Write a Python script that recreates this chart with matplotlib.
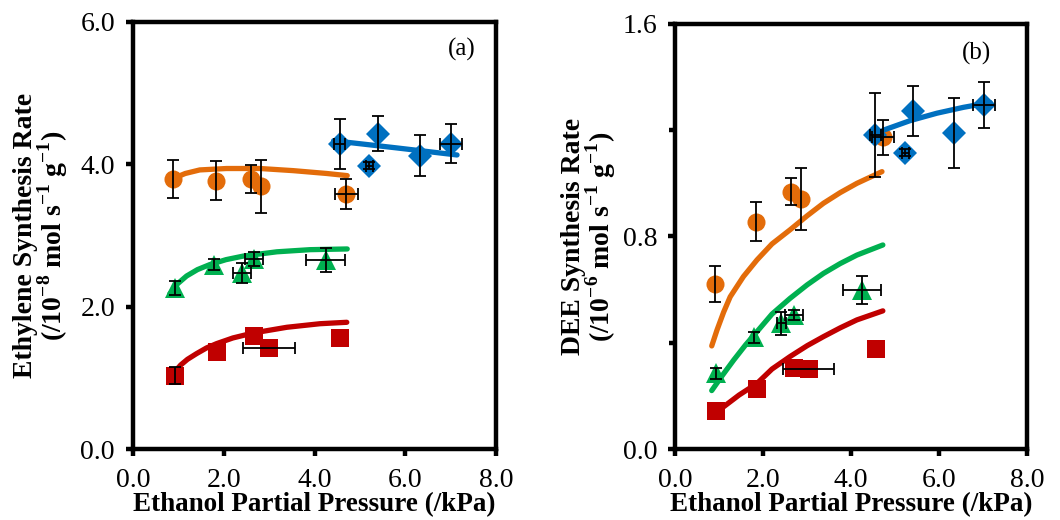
import matplotlib
matplotlib.use("Agg")
import matplotlib.pyplot as plt
from matplotlib.ticker import MultipleLocator, FormatStrFormatter, FixedLocator

plt.rcParams['font.family'] = 'Liberation Serif'
plt.rcParams['mathtext.fontset'] = 'custom'
plt.rcParams['mathtext.rm'] = 'Liberation Serif'
plt.rcParams['mathtext.bf'] = 'Liberation Serif:bold'

c_orange = '#E36C0A'
c_blue = '#0070C0'
c_green = '#00B050'
c_red = '#C00000'

# ---- panel (a): ethylene ----
a_or_x = [0.88, 1.83, 2.61, 2.83, 4.70]
a_or_y = [3.79, 3.77, 3.79, 3.69, 3.58]
a_or_ye = [0.27, 0.27, 0.20, 0.37, 0.21]
a_or_xe = [0, 0, 0, 0, 0.26]
a_bl_x = [4.55, 5.39, 5.21, 6.33, 7.01]
a_bl_y = [4.29, 4.43, 3.98, 4.12, 4.29]
a_bl_ye = [0.35, 0.25, 0.05, 0.29, 0.27]
a_bl_xe = [0.12, 0, 0.08, 0, 0.25]
a_gr_x = [0.92, 1.79, 2.41, 2.67, 4.25]
a_gr_y = [2.26, 2.59, 2.47, 2.67, 2.66]
a_gr_ye = [0.10, 0.08, 0.14, 0.10, 0.17]
a_gr_xe = [0, 0, 0.20, 0.20, 0.43]
a_rd_x = [0.92, 1.85, 2.67, 3.00, 4.55]
a_rd_y = [1.03, 1.36, 1.59, 1.42, 1.56]
a_rd_ye = [0.12, 0, 0, 0, 0]
a_rd_xe = [0, 0, 0, 0.57, 0]

# model curves (a)
a_or_fx = [0.88, 1.00, 1.15, 1.47, 2.06, 2.80, 3.53, 4.27, 4.72]
a_or_fy = [3.80, 3.83, 3.87, 3.92, 3.94, 3.94, 3.91, 3.87, 3.84]
a_bl_fx = [4.42, 5.80, 7.14]
a_bl_fy = [4.33, 4.23, 4.13]
a_gr_fx = [0.81, 0.98, 1.18, 1.42, 1.69, 2.05, 2.43, 3.17, 3.90, 4.72]
a_gr_fy = [2.18, 2.32, 2.43, 2.52, 2.59, 2.66, 2.71, 2.77, 2.80, 2.81]
a_rd_fx = [0.90, 1.05, 1.20, 1.40, 1.62, 1.84, 2.20, 2.65, 3.39, 4.12, 4.71]
a_rd_fy = [1.07, 1.18, 1.26, 1.34, 1.42, 1.48, 1.56, 1.63, 1.71, 1.76, 1.78]

# ---- panel (b): DEE ----
b_or_x = [0.91, 1.84, 2.63, 2.86, 4.72]
b_or_y = [0.620, 0.856, 0.969, 0.940, 1.174]
b_or_ye = [0.068, 0.073, 0.050, 0.116, 0.066]
b_or_xe = [0, 0, 0, 0, 0.25]
b_bl_x = [4.55, 5.40, 5.23, 6.34, 7.02]
b_bl_y = [1.182, 1.273, 1.116, 1.191, 1.295]
b_bl_ye = [0.157, 0.094, 0.015, 0.132, 0.085]
b_bl_xe = [0.12, 0, 0.08, 0, 0.25]
b_gr_x = [0.92, 1.80, 2.41, 2.70, 4.24]
b_gr_y = [0.285, 0.420, 0.473, 0.505, 0.599]
b_gr_ye = [0.02, 0.02, 0.044, 0.02, 0.054]
b_gr_xe = [0, 0, 0.10, 0.20, 0.435]
b_rd_x = [0.93, 1.87, 2.69, 3.03, 4.56]
b_rd_y = [0.143, 0.225, 0.304, 0.300, 0.375]
b_rd_ye = [0, 0, 0, 0, 0]
b_rd_xe = [0, 0, 0, 0.58, 0]

b_or_fx = [0.83, 0.95, 1.10, 1.25, 1.55, 1.86, 2.20, 2.61, 3.00, 3.37, 3.75, 4.13, 4.70]
b_or_fy = [0.388, 0.448, 0.515, 0.573, 0.649, 0.712, 0.772, 0.825, 0.878, 0.925, 0.965, 1.000, 1.044]
b_bl_fx = [4.73, 5.34, 5.95, 6.55, 7.16]
b_bl_fy = [1.200, 1.236, 1.264, 1.286, 1.304]
b_gr_fx = [0.83, 1.05, 1.33, 1.60, 1.86, 2.20, 2.61, 3.00, 3.37, 3.75, 4.13, 4.72]
b_gr_fy = [0.220, 0.272, 0.335, 0.392, 0.442, 0.508, 0.567, 0.618, 0.661, 0.698, 0.730, 0.768]
b_rd_fx = [0.85, 1.10, 1.45, 1.86, 2.20, 2.61, 3.00, 3.37, 3.75, 4.13, 4.72]
b_rd_fy = [0.130, 0.159, 0.203, 0.247, 0.301, 0.348, 0.389, 0.423, 0.456, 0.486, 0.520]


def series(ax, x, y, xe, ye, fx, fy, color, marker, ms):
    ax.plot(x, y, linestyle='none', marker=marker, ms=ms, color=color,
            markeredgewidth=0, zorder=3)
    ax.plot(fx, fy, color=color, lw=3.8, solid_capstyle='round',
            solid_joinstyle='round', zorder=4)
    # only draw the bars that exist (no caps for zero errors)
    for xi, yi, xei, yei in zip(x, y, xe, ye):
        if xei == 0 and yei == 0:
            continue
        ax.errorbar(xi, yi, xerr=xei if xei > 0 else None,
                    yerr=yei if yei > 0 else None, fmt='none', ecolor='black',
                    elinewidth=1.3, capsize=4.5, capthick=1.3, zorder=5)


def style(ax):
    for s in ax.spines.values():
        s.set_linewidth(3.2)
        s.set_color('black')
    ax.set_xlim(0, 8)
    ax.xaxis.set_major_locator(MultipleLocator(2))
    ax.xaxis.set_major_formatter(FormatStrFormatter('%.1f'))
    ax.tick_params(axis='both', which='major', direction='out', length=5,
                   width=3.2, labelsize=20)
    ax.tick_params(axis='x', which='major', pad=9)
    ax.tick_params(axis='y', which='major', pad=8)
    ax.tick_params(axis='y', which='minor', direction='out', length=4,
                   width=3.2)
    ax.set_xlabel('Ethanol Partial Pressure (/kPa)', fontsize=19.5,
                  fontweight='bold', labelpad=-1)


fig = plt.figure(figsize=(10.6, 5.2), dpi=100)
ax1 = fig.add_axes([0.1255, 0.1365, 0.3425, 0.8215])
ax2 = fig.add_axes([0.637, 0.1365, 0.332, 0.8175])

series(ax1, a_or_x, a_or_y, a_or_xe, a_or_ye, a_or_fx, a_or_fy, c_orange, 'o', 13)
series(ax1, a_bl_x, a_bl_y, a_bl_xe, a_bl_ye, a_bl_fx, a_bl_fy, c_blue, 'D', 12.5)
series(ax1, a_gr_x, a_gr_y, a_gr_xe, a_gr_ye, a_gr_fx, a_gr_fy, c_green, '^', 15)
series(ax1, a_rd_x, a_rd_y, a_rd_xe, a_rd_ye, a_rd_fx, a_rd_fy, c_red, 's', 13)
style(ax1)
ax1.set_ylim(0, 6)
ax1.yaxis.set_major_locator(MultipleLocator(2))
ax1.yaxis.set_major_formatter(FormatStrFormatter('%.1f'))
ax1.set_ylabel('Ethylene Synthesis Rate\n(/10$^{\\mathbf{-8}}$ mol s$^{\\mathbf{-1}}$ g$^{\\mathbf{-1}}$)',
               fontsize=20, fontweight='bold', linespacing=0.9)
ax1.yaxis.set_label_coords(-0.173, 0.5)
ax1.text(0.906, 0.935, '(a)', transform=ax1.transAxes, fontsize=18,
         ha='center', va='center')

series(ax2, b_or_x, b_or_y, b_or_xe, b_or_ye, b_or_fx, b_or_fy, c_orange, 'o', 13)
series(ax2, b_bl_x, b_bl_y, b_bl_xe, b_bl_ye, b_bl_fx, b_bl_fy, c_blue, 'D', 12.5)
series(ax2, b_gr_x, b_gr_y, b_gr_xe, b_gr_ye, b_gr_fx, b_gr_fy, c_green, '^', 15)
series(ax2, b_rd_x, b_rd_y, b_rd_xe, b_rd_ye, b_rd_fx, b_rd_fy, c_red, 's', 13)
style(ax2)
ax2.set_ylim(0, 1.6)
ax2.yaxis.set_major_locator(MultipleLocator(0.8))
ax2.yaxis.set_minor_locator(FixedLocator([0.4, 1.2]))
ax2.yaxis.set_major_formatter(FormatStrFormatter('%.1f'))
ax2.set_ylabel('DEE Synthesis Rate\n(/10$^{\\mathbf{-6}}$ mol s$^{\\mathbf{-1}}$ g$^{\\mathbf{-1}}$)',
               fontsize=20, fontweight='bold', linespacing=0.9)
ax2.yaxis.set_label_coords(-0.163, 0.5)
ax2.text(0.855, 0.93, '(b)', transform=ax2.transAxes, fontsize=18,
         ha='center', va='center')

fig.savefig('out.png', dpi=100)
